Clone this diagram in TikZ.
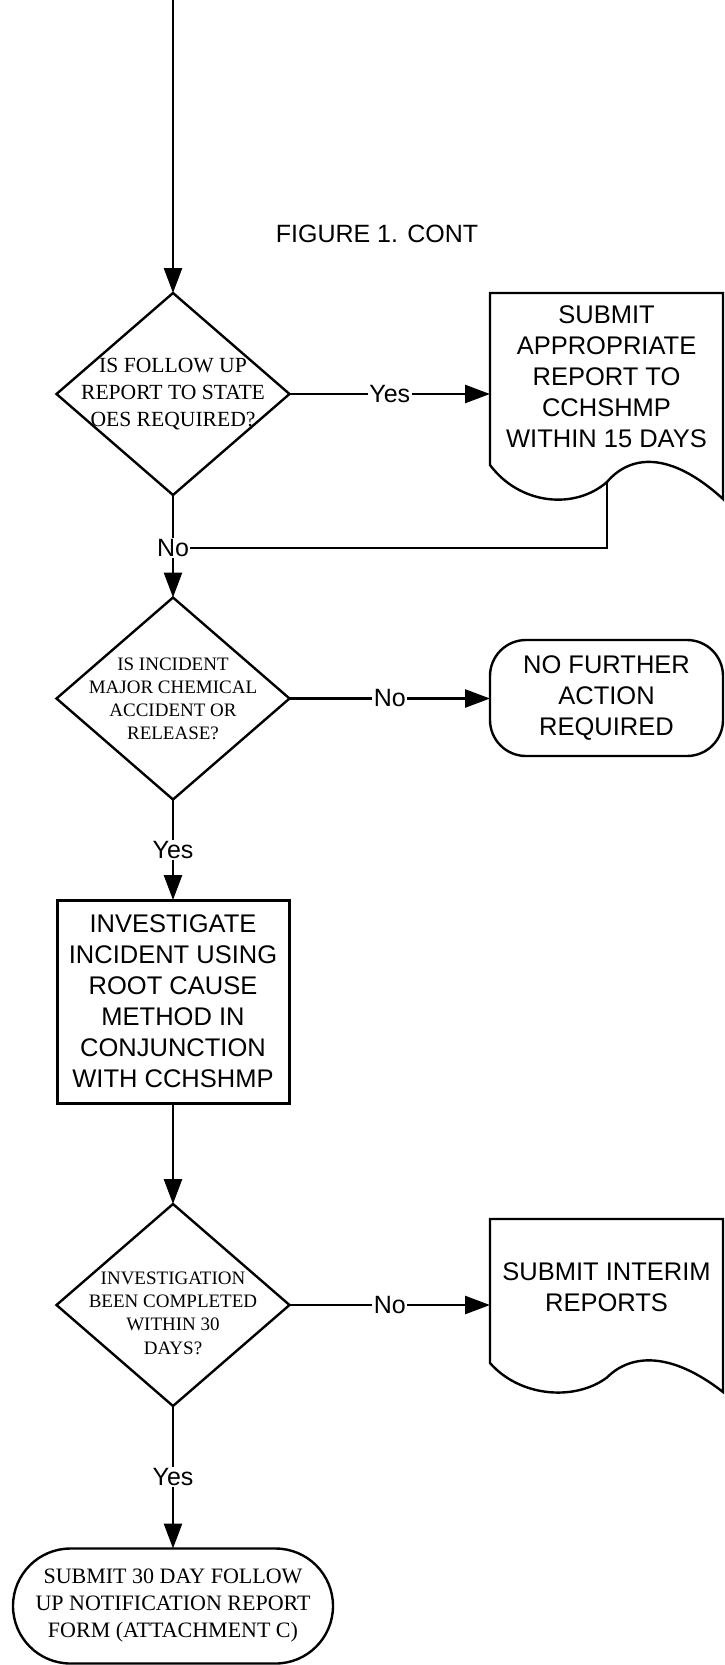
\documentclass[tikz,border=0pt]{standalone}
\usepackage{fontspec}
\setmainfont{Liberation Serif}
\setsansfont{Liberation Sans}
\usetikzlibrary{arrows.meta,shapes.geometric,shapes.misc,calc}
\newcommand\docoutline[5]{% x0,y0,w,H,A
\draw[shapeline] (#1,#2) -- ({#1+#3},#2) -- ({#1+#3},{#2+#4+#5})
 .. controls ({#1+0.77*#3},{#2+#4-0.44*#5}) and ({#1+0.6*#3},{#2+#4-0.29*#5}) .. ({#1+0.502*#3},{#2+#4+0.5*#5})
 .. controls ({#1+0.365*#3},{#2+#4+1.32*#5}) and ({#1+0.129*#3},{#2+#4+1.18*#5}) .. (#1,{#2+#4}) -- cycle;}
\tikzset{
 conn/.style={line width=2.6pt, -{Triangle[length=25pt,width=18pt]}},
 plain/.style={line width=2.6pt},
 shapeline/.style={draw, line width=2.4pt},
 sanstext/.style={font=\sffamily\fontsize{25.5}{31}\selectfont, align=center, inner sep=0pt, outer sep=0pt},
 lbl/.style={font=\sffamily\fontsize{25}{30}\selectfont, fill=white, inner sep=1.5pt},
 dia/.style={diamond, draw, line width=2.4pt, minimum width=233pt, minimum height=202pt, inner sep=0pt, outer sep=0pt},
 diatext/.style={align=center, inner sep=0pt},
}
\begin{document}
\begin{tikzpicture}[x=1pt,y=-1pt]
\useasboundingbox[fill=white] (0,0) rectangle (725,1665);
\coordinate (top) at (173,0);
\node[font=\sffamily\fontsize{25}{31}\selectfont] (title) at (377,234) {FIGURE 1. CONT};
% decision 1
\node[dia] (d1) at (173,394) {};
\node[diatext, font=\fontsize{21.6}{26.7}\selectfont] (d1t) at (d1.center) {IS FOLLOW UP\\REPORT TO STATE\\OES REQUIRED?};
% document 1
\docoutline{490}{293}{233}{172}{34}
\node[sanstext, minimum width=233pt, minimum height=168pt, anchor=north west] (doc1) at (490,293) {SUBMIT\\APPROPRIATE\\REPORT TO\\CCHSHMP\\WITHIN 15 DAYS};
\coordinate (doc1b) at (607,482);
\coordinate (j1) at (173,548);
% decision 2
\node[dia] (d2) at (173,698.5) {};
\node[diatext, font=\fontsize{19}{23}\selectfont] (d2t) at (d2.center) {IS INCIDENT\\MAJOR CHEMICAL\\ACCIDENT OR\\RELEASE?};
\node[sanstext, draw, line width=2.4pt, rounded corners=36pt, minimum width=233pt, minimum height=116pt] (p1) at (606.5,698) {NO FURTHER\\ACTION\\REQUIRED};
% process
\node[sanstext, draw, line width=3pt, minimum width=232pt, minimum height=203pt] (box) at (173,1001.5) {INVESTIGATE\\INCIDENT USING\\ROOT CAUSE\\METHOD IN\\CONJUNCTION\\WITH CCHSHMP};
% decision 3
\node[dia] (d3) at (173,1305) {};
\node[diatext, font=\fontsize{19}{23.3}\selectfont] (d3t) at (173,1313) {INVESTIGATION\\BEEN COMPLETED\\WITHIN 30\\DAYS?};
% document 2
\docoutline{490}{1219}{233}{144}{29}
\node[sanstext, minimum width=233pt, minimum height=136pt, anchor=north west] (doc2) at (490,1219) {SUBMIT INTERIM\\REPORTS};
% terminator
\node[rounded rectangle, draw, line width=2.4pt, minimum width=320pt, minimum height=115pt, inner sep=0pt, outer sep=0pt, font=\fontsize{22}{27}\selectfont, align=center] (p2) at (173,1606) {SUBMIT 30 DAY FOLLOW\\UP NOTIFICATION REPORT\\FORM (ATTACHMENT C)};
% connectors
\draw[conn] (top) -- (d1.north);
\draw[conn] (d1.east) -- (d1.east -| doc1.west) node[lbl, midway] {Yes};
\draw[plain] (d1.south) -- (j1);
\draw[plain] (doc1b) |- (j1);
\draw[conn] (j1) -- (d2.north);
\node[lbl] (no1) at (j1) {No};
\draw[conn] (d2.east) -- (d2.east -| p1.west) node[lbl, midway] {No};
\draw[conn] (d2.south) -- (box.north) node[lbl, midway] {Yes};
\draw[conn] (box.south) -- (d3.north);
\draw[conn] (d3.east) -- (d3.east -| doc2.west) node[lbl, midway] {No};
\draw[conn] (d3.south) -- (p2.north) node[lbl, midway] {Yes};
\end{tikzpicture}
\end{document}
